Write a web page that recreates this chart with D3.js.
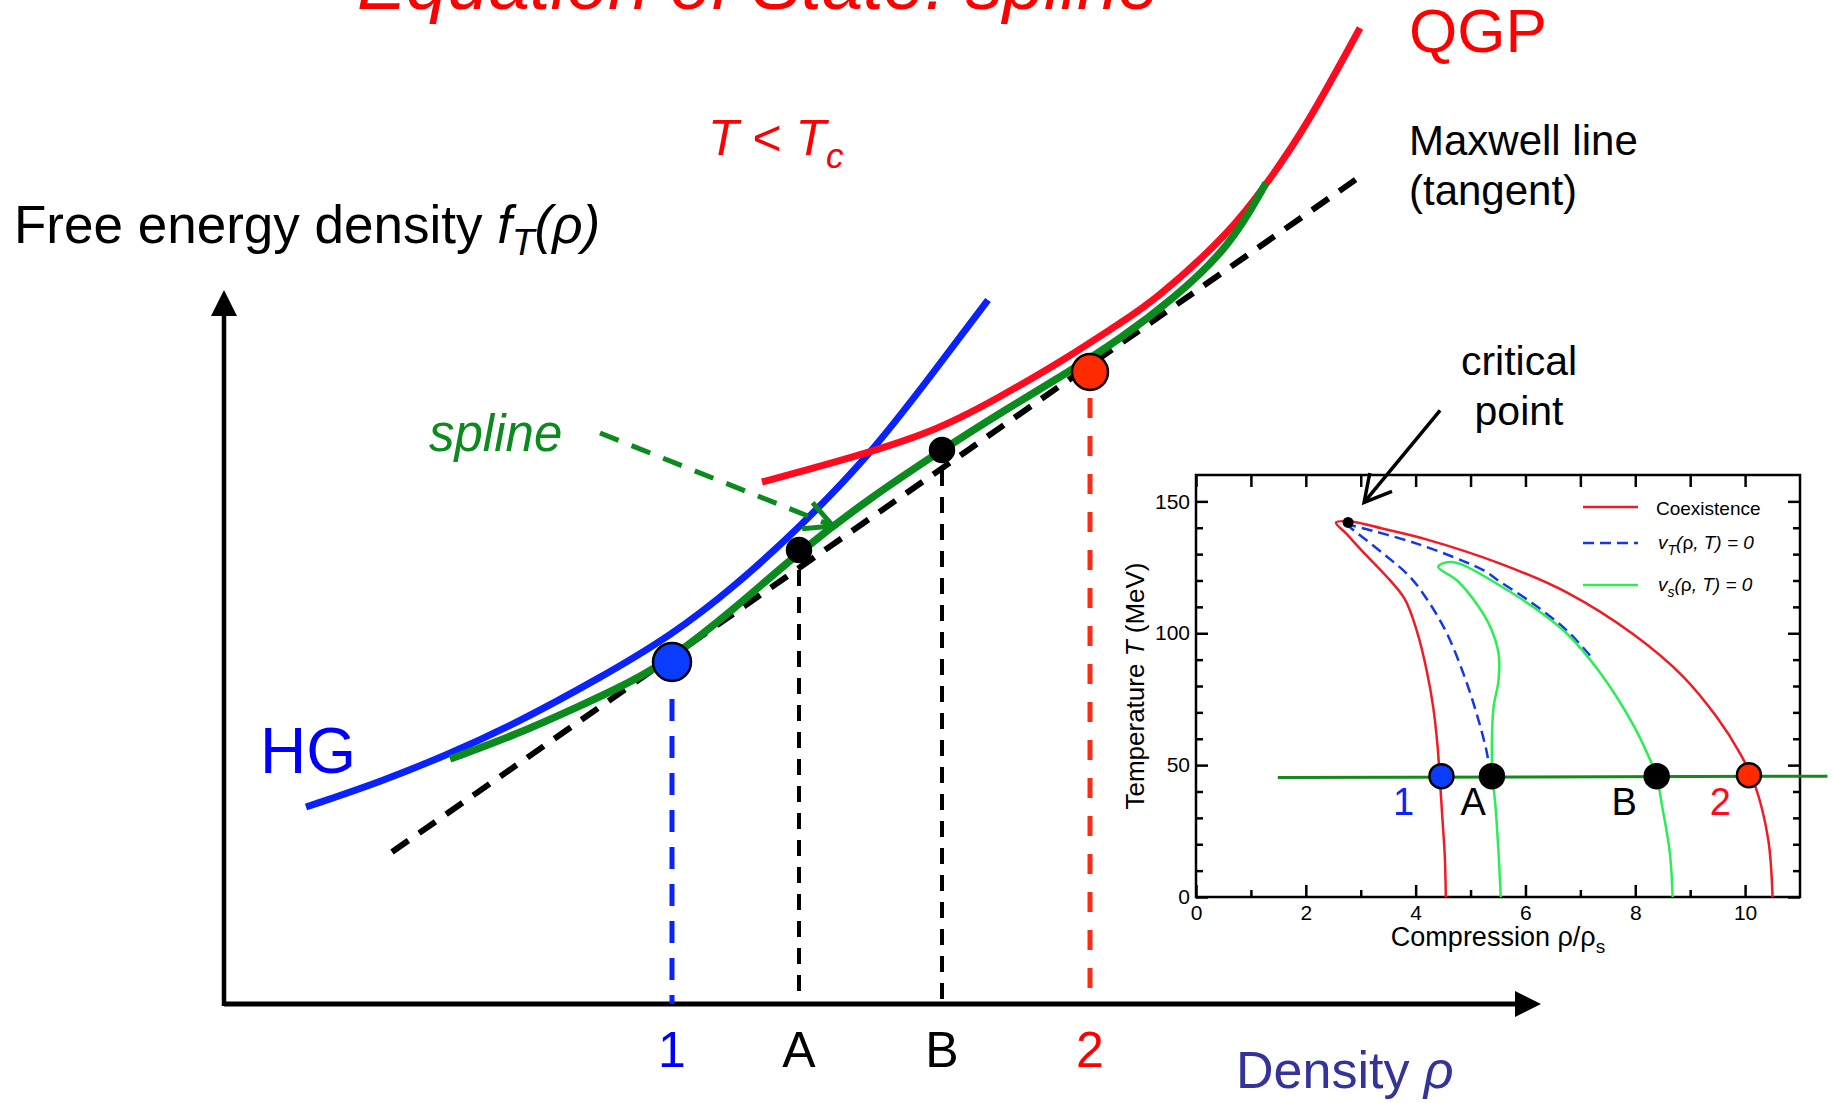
<!DOCTYPE html>
<html>
<head>
<meta charset="utf-8">
<script src="https://cdn.jsdelivr.net/npm/d3@7"></script>
<style>
body{margin:0;background:#fff}
svg{display:block;font-family:"Liberation Sans",Arial,Helvetica,sans-serif}
</style>
</head>
<body>
<svg id="chart" width="1833" height="1103"></svg>
<script>
// ---- main sketch: free energy density f vs density rho (arbitrary units) ----
var hgCurve = [[82,197],[156,222],[223,249],[289,279],[376,326],[448,369],[509,416],[576,477],[646,549],[709,631],[764,704]];
var qgpCurve = [[538,522],[609,541],[709,571],[776,607],[843,646],[896,681],[929,702],[1006,771],[1044,822],[1082,877],[1136,976]];
var splineCurve = [[226,245],[289,268],[356,298],[409,323],[448,346],[509,394],[575,452],[643,504],[718,554],[776,591],[843,631],[896,665],[948,704],[1006,757],[1042,821]];
var maxwellLine = [[168,152],[1134,826]];
var splineArrow = [[376,571],[609,478]];

var pointNames = ["1", "A", "B", "2"];
var pointRho = [448, 575, 718, 866];
var pointF = [342, 454, 554, 632];

// ---- inset: phase diagram, T (MeV) vs compression rho/rho_s ----
var coexCurve = [[4.55,0],[4.53,16],[4.49,29],[4.44,45],[4.40,57],[4.32,72],[4.20,86],[4.02,101],[3.80,113],[3.45,122],[3.08,130],[2.75,137.5],[2.55,142],[2.85,142.3],[3.41,139.6],[4.21,135.5],[5.54,126.4],[6.75,115.5],[7.97,99.5],[8.88,83.4],[9.48,68.3],[9.91,54.4],[10.17,43],[10.42,22],[10.50,0]];
var vtLeft = [[2.72,141.5],[3.41,130.2],[3.90,121.3],[4.26,111.2],[4.57,99.9],[4.87,84.7],[5.11,69.6],[5.30,54.4],[5.36,46]];
var vtRight = [[2.72,141.5],[4.02,134],[5.23,123.9],[5.54,119.5],[6.14,111.2],[6.75,101.1],[7.24,90]];
var vsCurve = [[5.55,0],[5.51,16.6],[5.45,35.5],[5.40,45.6],[5.39,60.7],[5.42,72.1],[5.51,82.2],[5.51,92.3],[5.36,102.4],[5.11,111.2],[4.75,120.1],[4.41,125.1],[4.48,126.4],[4.66,127],[4.87,125.8],[5.54,118],[6.14,110],[6.75,100],[7.36,85],[7.97,65],[8.27,52],[8.39,45.6],[8.48,35.5],[8.63,16.6],[8.68,0]];
var isotherm = [[1.49,45.3],[11.5,45.8]];
var criticalPoint = [2.77,142];
var insetRho = [4.47, 5.39, 8.39, 10.07];
var insetT = [45.8, 45.8, 45.8, 46.2];
var insetLabelRho = [3.78, 5.05, 7.80, 9.55];
var insetLabelT = 31;
var xMajor = [0,2,4,6,8,10];
var xMinor = [1,3,5,7,9];
var yMajor = [0,50,100,150];
var yMinor = [10,20,30,40,60,70,80,90,110,120,130,140];

var BLUE = "#0a22ff", RED = "#ff0a1e", GREEN = "#0b8a1e";

var svg = d3.select("#chart");

var mx = d3.scaleLinear().domain([0, 1317]).range([224, 1541]);
var my = d3.scaleLinear().domain([0, 714]).range([1004, 290]);
var mline = d3.line().x(d => mx(d[0])).y(d => my(d[1])).curve(d3.curveBasis);

// axes with arrow heads
var ox = mx(0), oy = my(0);
svg.append("line").attr("x1", ox).attr("y1", oy).attr("x2", mx(1317) - 20).attr("y2", oy)
    .attr("stroke", "#000").attr("stroke-width", 5);
svg.append("path").attr("d", "M" + mx(1317) + "," + oy + "L" + (mx(1317) - 26) + "," + (oy - 13) + "L" + (mx(1317) - 26) + "," + (oy + 13) + "Z");
svg.append("line").attr("x1", ox).attr("y1", oy + 2).attr("x2", ox).attr("y2", my(714) + 20)
    .attr("stroke", "#000").attr("stroke-width", 4.5);
svg.append("path").attr("d", "M" + ox + "," + my(714) + "L" + (ox - 13) + "," + (my(714) + 26) + "L" + (ox + 13) + "," + (my(714) + 26) + "Z");

// drop lines from the points to the density axis
var dropColor = [BLUE, "#000", "#000", "#ff2a12"];
var dropDash = ["22,15", "16,11", "16,11", "20,18"];
var dropWidth = [5, 4, 4, 5];
var dotR = [19, 12, 12, 18];
pointRho.forEach(function (r, i) {
    svg.append("line")
        .attr("x1", mx(r)).attr("x2", mx(r))
        .attr("y1", my(pointF[i]) + dotR[i] + (i == 0 ? 18 : 8)).attr("y2", oy)
        .attr("stroke", dropColor[i]).attr("stroke-width", dropWidth[i])
        .attr("stroke-dasharray", dropDash[i]);
});

// Maxwell tangent
svg.append("path").attr("d", mline(maxwellLine)).attr("fill", "none")
    .attr("stroke", "#000").attr("stroke-width", 6).attr("stroke-dasharray", "20,13");

svg.append("path").attr("d", mline(hgCurve)).attr("fill", "none").attr("stroke", BLUE).attr("stroke-width", 7);
svg.append("path").attr("d", mline(qgpCurve)).attr("fill", "none").attr("stroke", RED).attr("stroke-width", 7);
svg.append("path").attr("d", mline(splineCurve)).attr("fill", "none").attr("stroke", GREEN).attr("stroke-width", 7.5);

// dashed arrow pointing at the spline
function arrowHead(tx, ty, fx, fy, len, spread) {
    var a = Math.atan2(fy - ty, fx - tx);
    var p1 = [tx + len * Math.cos(a - spread), ty + len * Math.sin(a - spread)];
    var p2 = [tx + len * Math.cos(a + spread), ty + len * Math.sin(a + spread)];
    return "M" + p1 + "L" + tx + "," + ty + "L" + p2;
}
var a0 = splineArrow[0], a1 = splineArrow[1];
svg.append("path").attr("d", mline(splineArrow)).attr("fill", "none")
    .attr("stroke", GREEN).attr("stroke-width", 5).attr("stroke-dasharray", "20,14");
svg.append("path").attr("d", arrowHead(mx(a1[0]), my(a1[1]), mx(a0[0]), my(a0[1]), 31, 0.47))
    .attr("fill", "none").attr("stroke", GREEN).attr("stroke-width", 5);

// points on the curves
var dotFill = ["#0a3cff", "#000", "#000", "#ff2a00"];
svg.selectAll(".mdot").data(pointRho).enter().append("circle")
    .attr("cx", d => mx(d)).attr("cy", (d, i) => my(pointF[i])).attr("r", (d, i) => dotR[i])
    .attr("fill", (d, i) => dotFill[i]).attr("stroke", "#000").attr("stroke-width", 2.5);

var labelColor = ["#0000ff", "#000", "#000", "#ff0000"];
svg.selectAll(".mlab").data(pointNames).enter().append("text")
    .attr("x", (d, i) => mx(pointRho[i])).attr("y", 1067).attr("text-anchor", "middle")
    .attr("font-size", 50).attr("fill", (d, i) => labelColor[i]).text(d => d);

// texts of the main sketch
svg.append("text").attr("x", 357).attr("y", 9).attr("font-size", 74).attr("font-style", "italic")
    .attr("fill", "#ff0000").text("Equation of State: spline");
svg.append("text").attr("x", 1409).attr("y", 52).attr("font-size", 62).attr("fill", "#ff0000").text("QGP");
svg.append("text").attr("x", 1409).attr("y", 155).attr("font-size", 42).text("Maxwell line");
svg.append("text").attr("x", 1409).attr("y", 205).attr("font-size", 42).text("(tangent)");

var tc = svg.append("text").attr("x", 708).attr("y", 155).attr("font-size", 50).attr("fill", "#ff0000");
tc.append("tspan").attr("font-style", "italic").text("T");
tc.append("tspan").text(" < ");
tc.append("tspan").attr("font-style", "italic").text("T");
tc.append("tspan").attr("font-style", "italic").attr("font-size", 35).attr("dy", 13).text("c");

var fe = svg.append("text").attr("x", 14).attr("y", 243).attr("font-size", 53);
fe.append("tspan").text("Free energy density ");
fe.append("tspan").attr("font-style", "italic").text("f");
fe.append("tspan").attr("font-style", "italic").attr("font-size", 37).attr("dy", 12).text("T");
fe.append("tspan").attr("font-style", "italic").attr("dy", -12).text("(ρ)");

svg.append("text").attr("x", 429).attr("y", 451).attr("font-size", 51).attr("font-style", "italic")
    .attr("fill", GREEN).text("spline");
svg.append("text").attr("x", 260).attr("y", 773).attr("font-size", 64).attr("fill", "#0000ff").text("HG");

var dn = svg.append("text").attr("x", 1236).attr("y", 1088).attr("font-size", 52).attr("fill", "#333399");
dn.append("tspan").text("Density ");
dn.append("tspan").attr("font-style", "italic").text("ρ");

// ---- inset ----
var ix = d3.scaleLinear().domain([0, 11]).range([1196, 1800]);
var iy = d3.scaleLinear().domain([0, 160]).range([897, 475]);
var iline = d3.line().x(d => ix(d[0])).y(d => iy(d[1])).curve(d3.curveCatmullRom.alpha(0.5));
var inset = svg.append("g").attr("class", "inset");

function addAxis(axis, tx, ty, labelled) {
    var g = inset.append("g").attr("transform", "translate(" + tx + "," + ty + ")").call(axis);
    g.select(".domain").remove();
    g.selectAll(".tick line").attr("stroke", "#000").attr("stroke-width", 2.5);
    g.selectAll("text").attr("font-size", 21).attr("fill", "#000")
        .attr("font-family", "'Liberation Sans',Arial,sans-serif");
    if (!labelled) g.selectAll("text").remove();
}
addAxis(d3.axisBottom(ix).tickValues(xMajor).tickSize(-12).tickPadding(8), 0, iy(0), true);
addAxis(d3.axisBottom(ix).tickValues(xMinor).tickSize(-7), 0, iy(0), false);
addAxis(d3.axisTop(ix).tickValues(xMajor.concat(xMinor)).tickSize(-12), 0, iy(160), false);
addAxis(d3.axisLeft(iy).tickValues(yMajor).tickSize(-12).tickPadding(6), ix(0), 0, true);
addAxis(d3.axisLeft(iy).tickValues(yMinor).tickSize(-7), ix(0), 0, false);
addAxis(d3.axisRight(iy).tickValues(yMajor).tickSize(-12), ix(11), 0, false);
addAxis(d3.axisRight(iy).tickValues(yMinor).tickSize(-7), ix(11), 0, false);

inset.append("rect").attr("x", ix(0)).attr("y", iy(160)).attr("width", ix(11) - ix(0)).attr("height", iy(0) - iy(160))
    .attr("fill", "none").attr("stroke", "#000").attr("stroke-width", 2.5);

inset.append("path").attr("d", iline(coexCurve)).attr("fill", "none").attr("stroke", "#ee1c25").attr("stroke-width", 2.5);
inset.append("path").attr("d", iline(vtLeft)).attr("fill", "none").attr("stroke", "#1438e6").attr("stroke-width", 2.5).attr("stroke-dasharray", "11,6");
inset.append("path").attr("d", iline(vtRight)).attr("fill", "none").attr("stroke", "#1438e6").attr("stroke-width", 2.5).attr("stroke-dasharray", "11,6");
inset.append("path").attr("d", iline(vsCurve)).attr("fill", "none").attr("stroke", "#2bee55").attr("stroke-width", 2.5);
inset.append("path").attr("d", iline(isotherm)).attr("fill", "none").attr("stroke", "#15891a").attr("stroke-width", 3);

inset.append("circle").attr("cx", ix(criticalPoint[0])).attr("cy", iy(criticalPoint[1])).attr("r", 5.5).attr("fill", "#000");

inset.selectAll(".idot").data(insetRho).enter().append("circle")
    .attr("cx", d => ix(d)).attr("cy", (d, i) => iy(insetT[i])).attr("r", 12)
    .attr("fill", (d, i) => dotFill[i]).attr("stroke", "#000").attr("stroke-width", 2.5);

var insetLabelColor = ["#0a22ff", "#000", "#000", "#ff0a1e"];
inset.selectAll(".ilab").data(pointNames).enter().append("text")
    .attr("x", (d, i) => ix(insetLabelRho[i])).attr("y", iy(insetLabelT)).attr("text-anchor", "middle")
    .attr("font-size", 38).attr("fill", (d, i) => insetLabelColor[i]).text(d => d);

// axis titles
var tt = inset.append("text").attr("transform", "translate(1144," + ((iy(0) + iy(160)) / 2) + ") rotate(-90)")
    .attr("text-anchor", "middle").attr("font-size", 26);
tt.append("tspan").text("Temperature  ");
tt.append("tspan").attr("font-style", "italic").text("T");
tt.append("tspan").text(" (MeV)");

var ct = inset.append("text").attr("x", (ix(0) + ix(11)) / 2).attr("y", 946).attr("text-anchor", "middle").attr("font-size", 27);
ct.append("tspan").text("Compression ρ/ρ");
ct.append("tspan").attr("font-size", 19).attr("dy", 7).text("s");

// legend
var legY = [507, 543, 585];
var legColor = ["#ee1c25", "#1438e6", "#2bee55"];
var legDash = [null, "11,6", null];
legY.forEach(function (y, i) {
    inset.append("line").attr("x1", 1583).attr("x2", 1638).attr("y1", y).attr("y2", y)
        .attr("stroke", legColor[i]).attr("stroke-width", 2.5).attr("stroke-dasharray", legDash[i]);
});
inset.append("text").attr("x", 1656).attr("y", legY[0] + 8).attr("font-size", 19).text("Coexistence");
["T", "s"].forEach(function (sub, i) {
    var t = inset.append("text").attr("x", 1658).attr("y", legY[i + 1] + 6).attr("font-size", 19).attr("font-style", "italic");
    t.append("tspan").text("v");
    t.append("tspan").attr("font-size", 14).attr("dy", 6).text(sub);
    t.append("tspan").attr("dy", -6).text("(");
    t.append("tspan").attr("font-style", "normal").text("ρ");
    t.append("tspan").text(", T) = 0");
});

// critical point annotation
var tipX = ix(criticalPoint[0]) + 16, tipY = iy(criticalPoint[1]) - 20;
svg.append("line").attr("x1", tipX).attr("y1", tipY).attr("x2", tipX + 76).attr("y2", tipY - 92)
    .attr("stroke", "#000").attr("stroke-width", 3.5);
svg.append("path").attr("d", arrowHead(tipX, tipY, tipX + 76, tipY - 92, 30, 0.5))
    .attr("fill", "none").attr("stroke", "#000").attr("stroke-width", 3.5);
svg.append("text").attr("x", 1519).attr("y", 375).attr("text-anchor", "middle").attr("font-size", 41).text("critical");
svg.append("text").attr("x", 1519).attr("y", 425).attr("text-anchor", "middle").attr("font-size", 41).text("point");
</script>
</body>
</html>
